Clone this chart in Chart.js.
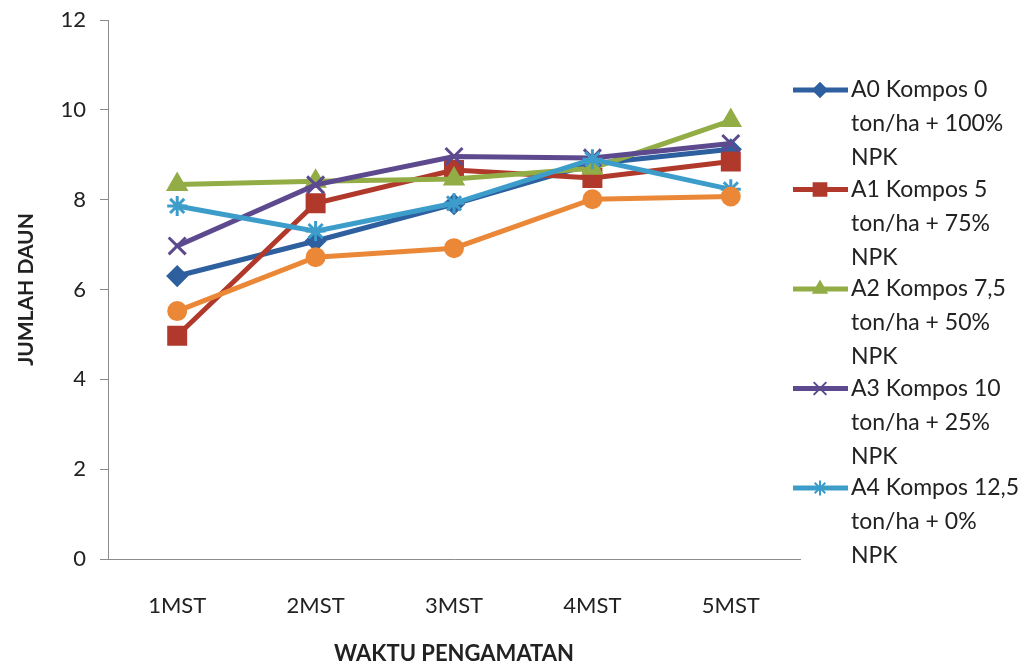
<!DOCTYPE html>
<html>
<head>
<meta charset="utf-8">
<title>Jumlah Daun</title>
<script src="https://cdn.jsdelivr.net/npm/chart.js@4/dist/chart.umd.min.js"></script>
<style>
  html, body { margin: 0; padding: 0; background: #ffffff; }
  #wrap { width: 1026px; height: 669px; position: relative; }
</style>
</head>
<body>
<div id="wrap"><canvas id="daunChart"></canvas></div>
<script>
// Data jumlah daun per waktu pengamatan
const waktu = ["1MST", "2MST", "3MST", "4MST", "5MST"];
const dataA0 = [6.30, 7.08, 7.90, 8.80, 9.12];
const dataA1 = [4.97, 7.92, 8.66, 8.48, 8.85];
const dataA2 = [8.34, 8.41, 8.46, 8.70, 9.76];
const dataA3 = [6.97, 8.33, 8.96, 8.93, 9.25];
const dataA4 = [7.86, 7.30, 7.92, 8.90, 8.23];
const dataA5 = [5.52, 6.72, 6.92, 8.01, 8.07];
const yTicks = [0, 2, 4, 6, 8, 10, 12];

// Teks legenda (dipecah per baris)
const labelA0 = ["A0 Kompos 0", "ton/ha + 100%", "NPK"];
const labelA1 = ["A1 Kompos 5", "ton/ha + 75%", "NPK"];
const labelA2 = ["A2 Kompos 7,5", "ton/ha + 50%", "NPK"];
const labelA3 = ["A3 Kompos 10", "ton/ha + 25%", "NPK"];
const labelA4 = ["A4 Kompos 12,5", "ton/ha + 0%", "NPK"];
const labelA5 = ["A5 Kompos 15", "ton/ha"];

const seri = [
    { lines: labelA0, data: dataA0, color: "#2e5f9f", style: "rectRot", radius: 9, legend: true },
    { lines: labelA1, data: dataA1, color: "#b0392c", style: "rect", radius: 12, legend: true },
    { lines: labelA2, data: dataA2, color: "#93ad46", style: "triangle", radius: 10, legend: true },
    { lines: labelA3, data: dataA3, color: "#5d4a8e", style: "crossRot", radius: 12, legend: true },
    { lines: labelA4, data: dataA4, color: "#3c9dca", style: "star", radius: 10, legend: true },
    { lines: labelA5, data: dataA5, color: "#eb8838", style: "circle", radius: 8.5, legend: false }
];

const warnaTeks = "#222222";
const warnaSumbu = "#8c8c8c";

// Legenda di sebelah kanan, teks bisa beberapa baris
const legendKanan = {
    id: "legendKanan",
    afterDraw(chart) {
        const ctx = chart.ctx;
        ctx.save();
        ctx.font = "23px Lato";
        ctx.textBaseline = "middle";
        seri.filter(s => s.legend).forEach((s, i) => {
            const y0 = 90 + i * 99.5;
            ctx.strokeStyle = s.color;
            ctx.fillStyle = s.color;
            ctx.lineWidth = 5;
            ctx.beginPath();
            ctx.moveTo(793, y0);
            ctx.lineTo(848, y0);
            ctx.stroke();
            ctx.lineWidth = 2;
            Chart.helpers.drawPoint(ctx, {
                pointStyle: s.style,
                radius: s.radius * 0.75,
                rotation: 0,
                borderWidth: 2
            }, 820, y0);
            ctx.fillStyle = warnaTeks;
            s.lines.forEach((t, j) => ctx.fillText(t, 851, y0 + j * 34));
        });
        ctx.restore();
    }
};

const ctx = document.getElementById("daunChart").getContext("2d");

new Chart(ctx, {
    type: "line",
    data: {
        labels: waktu,
        datasets: seri.map((s, i) => ({
            label: s.lines.join(" "),
            data: s.data,
            borderColor: s.color,
            backgroundColor: s.color,
            borderWidth: 5,
            pointStyle: s.style,
            pointRadius: s.radius,
            pointBorderWidth: 3,
            pointBackgroundColor: s.color,
            pointBorderColor: s.color,
            tension: 0,
            fill: false,
            order: seri.length - i
        }))
    },
    options: {
        responsive: true,
        maintainAspectRatio: false,
        animation: false,
        layout: {
            padding: { left: 0, top: 20, right: 226, bottom: 0 }
        },
        plugins: {
            legend: { display: false },
            tooltip: { enabled: false }
        },
        scales: {
            x: {
                offset: true,
                grid: { display: false },
                border: { display: true, color: warnaSumbu, width: 1 },
                ticks: {
                    color: warnaTeks,
                    font: { family: "Lato", size: 22 },
                    padding: 26,
                    maxRotation: 0
                },
                title: {
                    display: true,
                    text: "WAKTU PENGAMATAN",
                    color: warnaTeks,
                    font: { family: "Lato", size: 22, weight: "bold" },
                    padding: { top: 0, bottom: 2 }
                },
                afterFit: function (scale) {
                    scale.height = 110;
                }
            },
            y: {
                min: 0,
                max: 12,
                afterBuildTicks: function (scale) {
                    scale.ticks = yTicks.map(v => ({ value: v }));
                },
                grid: {
                    drawOnChartArea: false,
                    drawTicks: true,
                    tickLength: 8,
                    color: warnaSumbu
                },
                border: { display: true, color: warnaSumbu, width: 1 },
                ticks: {
                    color: warnaTeks,
                    font: { family: "Lato", size: 22 },
                    padding: 14
                },
                title: {
                    display: true,
                    text: "JUMLAH DAUN",
                    color: warnaTeks,
                    font: { family: "Lato", size: 21, weight: "bold" },
                    padding: { top: 14, bottom: 0 }
                },
                afterFit: function (scale) {
                    scale.width = 108;
                    scale.paddingTop = 0;
                    scale.paddingBottom = 0;
                }
            }
        }
    },
    plugins: [legendKanan]
});
</script>
</body>
</html>
